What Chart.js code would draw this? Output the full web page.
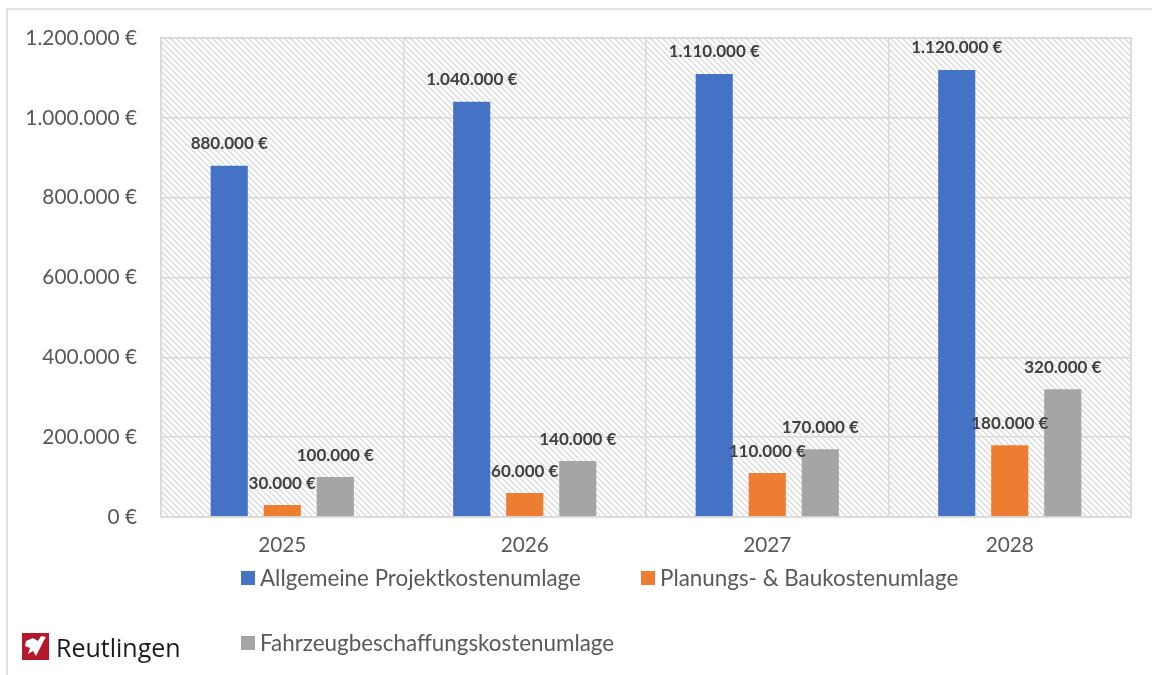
<!DOCTYPE html>
<html><head><meta charset="utf-8">
<script src="https://cdn.jsdelivr.net/npm/chart.js@4.4.1/dist/chart.umd.min.js"></script>
<style>html,body{margin:0;padding:0;background:#fff;overflow:hidden}#wrap{width:1152px;height:675px;position:relative}</style>
</head><body><div id="wrap"><canvas id="c" width="1152" height="675"></canvas></div>
<script>
const years = ['2025', '2026', '2027', '2028'];
const allgemeineProjektkosten = [880000, 1040000, 1110000, 1120000];
const planungsBaukosten = [30000, 60000, 110000, 180000];
const fahrzeugbeschaffung = [100000, 140000, 170000, 320000];
const seriesNames = ['Allgemeine Projektkostenumlage', 'Planungs- & Baukostenumlage', 'Fahrzeugbeschaffungskostenumlage'];
const seriesColors = ['#4472C4', '#ED7D31', '#A5A5A5'];
const yMin = 0, yMax = 1200000, yStep = 200000;
const logoText = 'Reutlingen';

function euro(v) {
  const s = String(Math.round(v)).replace(/\B(?=(\d{3})+(?!\d))/g, '.');
  return s + ' €';
}

function makeHatch() {
  const s = 6;
  const c = document.createElement('canvas');
  c.width = s; c.height = s;
  const g = c.getContext('2d');
  g.fillStyle = '#ffffff'; g.fillRect(0, 0, s, s);
  g.strokeStyle = '#d9d9d9'; g.lineWidth = 1.3;
  g.beginPath();
  g.moveTo(-1, -1); g.lineTo(s + 1, s + 1);
  g.moveTo(-1, s - 1); g.lineTo(1, s + 1);
  g.moveTo(s - 1, -1); g.lineTo(s + 1, 1);
  g.stroke();
  return c;
}

const deco = {
  id: 'deco',
  beforeDraw(chart) {
    const ctx = chart.ctx, a = chart.chartArea;
    ctx.save();
    ctx.fillStyle = '#fff'; ctx.fillRect(0, 0, chart.width, chart.height);
    ctx.strokeStyle = '#d9d9d9'; ctx.lineWidth = 1.5;
    ctx.beginPath(); ctx.moveTo(7, 675); ctx.lineTo(7, 9); ctx.lineTo(1152, 9); ctx.stroke();
    ctx.fillStyle = ctx.createPattern(makeHatch(), 'repeat');
    ctx.fillRect(a.left, a.top, a.right - a.left, a.bottom - a.top);
    ctx.restore();
  },
  afterDatasetsDraw(chart) {
    const ctx = chart.ctx;
    ctx.save();
    ctx.font = 'bold 17px Lato';
    ctx.fillStyle = '#404040';
    ctx.textAlign = 'center'; ctx.textBaseline = 'middle';
    chart.data.datasets.forEach((ds, i) => {
      chart.getDatasetMeta(i).data.forEach((bar, j) => {
        ctx.fillText(euro(ds.data[j]), bar.x, bar.y - 22);
      });
    });
    ctx.restore();
  },
  afterDraw(chart) {
    const ctx = chart.ctx, a = chart.chartArea;
    ctx.save();
    ctx.strokeStyle = '#d9d9d9'; ctx.lineWidth = 1.5;
    ctx.strokeRect(a.left, a.top, a.right - a.left, a.bottom - a.top);
    // legend
    const pos = [[241, 578], [641, 578], [241, 643]];
    ctx.font = '22.4px Lato'; ctx.textBaseline = 'middle'; ctx.textAlign = 'left';
    chart.data.datasets.forEach((ds, i) => {
      const [x, y] = pos[i];
      ctx.fillStyle = ds.backgroundColor;
      ctx.fillRect(x, y - 7, 14, 14);
      ctx.fillStyle = '#595959';
      ctx.fillText(ds.label, x + 19, y + 1);
    });
    // logo
    ctx.fillStyle = '#b5182b';
    ctx.fillRect(22, 633, 27, 27);
    ctx.fillStyle = '#fff';
    ctx.beginPath();
    ctx.moveTo(26, 641); ctx.lineTo(33, 638); ctx.lineTo(38, 641); ctx.lineTo(41, 636);
    ctx.lineTo(46, 637); ctx.lineTo(43, 642); ctx.lineTo(40, 648); ctx.lineTo(36, 656);
    ctx.lineTo(33, 651); ctx.lineTo(28, 654); ctx.lineTo(30, 648); ctx.lineTo(25, 646);
    ctx.closePath(); ctx.fill();
    ctx.fillStyle = '#1a1a1a';
    ctx.font = '25px "Open Sans"';
    ctx.textBaseline = 'alphabetic';
    ctx.fillText(logoText, 56, 657);
    ctx.restore();
  }
};

Chart.defaults.font.family = 'Lato';
Chart.defaults.color = '#595959';

new Chart(document.getElementById('c'), {
  type: 'bar',
  data: {
    labels: years,
    datasets: [
      { label: seriesNames[0], data: allgemeineProjektkosten, backgroundColor: seriesColors[0] },
      { label: seriesNames[1], data: planungsBaukosten, backgroundColor: seriesColors[1] },
      { label: seriesNames[2], data: fahrzeugbeschaffung, backgroundColor: seriesColors[2] }
    ]
  },
  options: {
    responsive: false,
    animation: false,
    devicePixelRatio: 1,
    datasets: { bar: { categoryPercentage: 0.656, barPercentage: 0.70 } },
    layout: { padding: { left: 0, top: 38, right: 21, bottom: 118 } },
    plugins: { legend: { display: false }, tooltip: { enabled: false } },
    scales: {
      x: {
        grid: { color: '#d9d9d9', lineWidth: 1.5, drawTicks: false, offset: true },
        border: { color: '#d9d9d9', width: 1.5 },
        ticks: { font: { size: 20.8 }, color: '#595959', padding: 16 },
        afterFit(s) { s.height = 40; }
      },
      y: {
        min: yMin, max: yMax,
        grid: { color: '#d9d9d9', lineWidth: 1.5, drawTicks: false },
        border: { color: '#d9d9d9', width: 1.5 },
        ticks: { stepSize: yStep, font: { size: 20.8 }, color: '#595959', padding: 24, callback: v => euro(v) },
        afterFit(s) { s.width = 161; }
      }
    }
  },
  plugins: [deco]
});
</script></body></html>
